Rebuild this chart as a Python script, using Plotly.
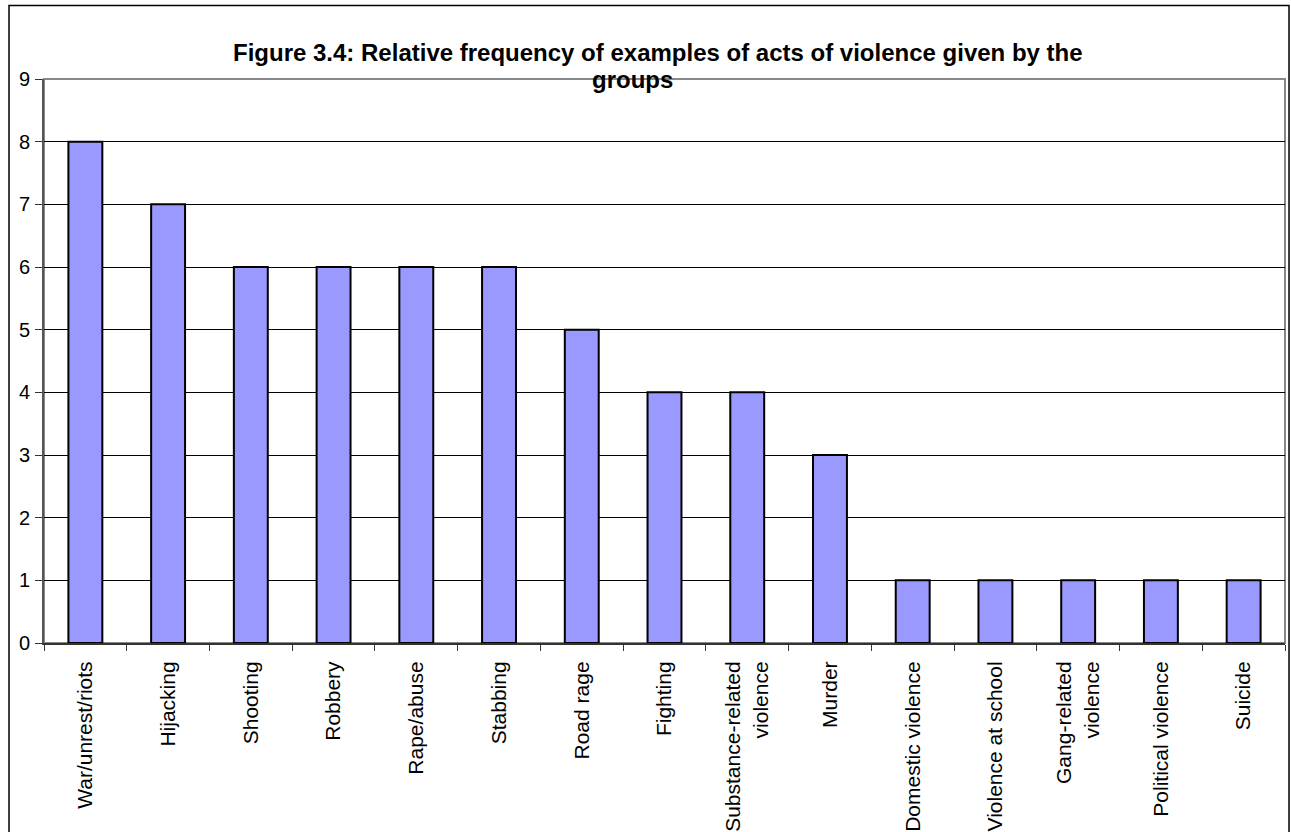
import plotly.graph_objects as go

categories = ["War/unrest/riots", "Hijacking", "Shooting", "Robbery", "Rape/abuse",
              "Stabbing", "Road rage", "Fighting", "Substance-related<br>violence",
              "Murder", "Domestic violence", "Violence at school",
              "Gang-related<br>violence", "Political violence", "Suicide"]
values = [8, 7, 6, 6, 6, 6, 5, 4, 4, 3, 1, 1, 1, 1, 1]
y_ticks = [0, 1, 2, 3, 4, 5, 6, 7, 8, 9]
title_line1 = "Figure 3.4: Relative frequency of examples of acts of violence given by the"
title_line2 = "groups"

W, H = 1291, 832
L, R, T, B = 44, 6, 79, 189
pw, ph = W - L - R, H - T - B

def px_x(p):
    return (p - L) / pw

def px_y(p):
    return (H - B - p) / ph

FONT = "Arial, Liberation Sans, sans-serif"

fig = go.Figure(go.Bar(
    x=categories, y=values,
    marker=dict(color="#9999FF", line=dict(color="black", width=2)),
    width=0.41,
))

fig.update_layout(
    width=W, height=H,
    margin=dict(l=L, r=R, t=T, b=B, autoexpand=False),
    paper_bgcolor="white", plot_bgcolor="white",
    font=dict(family=FONT, color="black"),
    showlegend=False,
    bargap=0.59,
    xaxis=dict(
        type="category", tickangle=-90, tickfont=dict(size=21),
        ticks="outside", ticklen=6, tickcolor="#333333", tickson="boundaries",
        ticklabelstandoff=8,
        showline=True, linecolor="#333333", linewidth=2, showgrid=False,
    ),
    yaxis=dict(
        range=[0, 9], tickvals=y_ticks, tickfont=dict(size=20),
        ticks="outside", ticklen=7, tickcolor="#333333",
        ticklabelstandoff=1,
        showline=True, linecolor="#555555", linewidth=2,
        showgrid=True, gridcolor="black", gridwidth=1, zeroline=False,
    ),
    annotations=[
        dict(text="<b>" + title_line1 + "</b>", xref="paper", yref="paper",
             x=px_x(658), y=px_y(52), xanchor="center", yanchor="middle",
             showarrow=False, font=dict(size=24, family=FONT, color="black")),
        dict(text="<b>" + title_line2 + "</b>", xref="paper", yref="paper",
             x=px_x(632), y=px_y(80), xanchor="center", yanchor="middle",
             showarrow=False, font=dict(size=24, family=FONT, color="black")),
    ],
    shapes=[
        dict(type="rect", xref="paper", yref="paper", x0=0, x1=1, y0=0, y1=1,
             line=dict(color="#888888", width=2), layer="below"),
        dict(type="rect", xref="paper", yref="paper",
             x0=px_x(9), x1=px_x(1289), y0=px_y(838), y1=px_y(5.5),
             line=dict(color="black", width=1.5)),
    ],
)

fig.write_html("out.html")
